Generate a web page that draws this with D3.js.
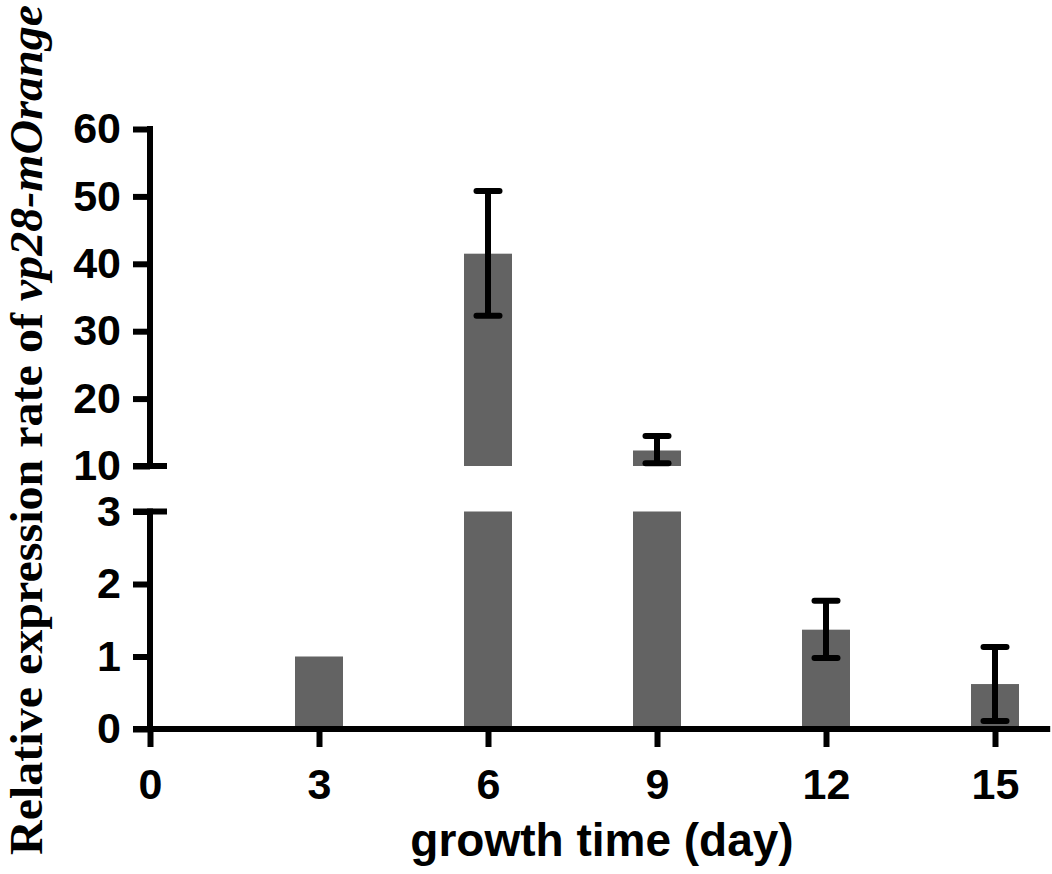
<!DOCTYPE html>
<html>
<head>
<meta charset="utf-8">
<script src="https://cdn.jsdelivr.net/npm/d3@7"></script>
<style>
  body { margin: 0; background: #fff; }
  svg { display: block; }
</style>
</head>
<body>
<div id="chart"></div>
<script>
// Data
const days = [3, 6, 9, 12, 15];
const means = [1.0, 41.5, 12.3, 1.37, 0.62];
const errLow = [null, 32.3, 10.4, 0.98, 0.11];
const errHigh = [null, 50.8, 14.45, 1.77, 1.13];
const xTicks = [0, 3, 6, 9, 12, 15];
const yTicksLow = [0, 1, 2, 3];
const yTicksHigh = [10, 20, 30, 40, 50, 60];

const width = 1052, height = 874;
const barColor = "#636363";
const sw = 6;

const svg = d3.select("#chart").append("svg")
  .attr("width", width)
  .attr("height", height);

// scales: broken y axis with two segments
const x = d3.scaleLinear().domain([0, 15]).range([150, 995]);
const yLow = d3.scaleLinear().domain([0, 3]).range([729, 511.5]);
const yHigh = d3.scaleLinear().domain([10, 60]).range([466, 129]);
const yAny = v => v <= 3 ? yLow(v) : yHigh(v);
const barW = x(0.852) - x(0);

const rows = days.map((d, i) => ({ day: d, mean: means[i], lo: errLow[i], hi: errHigh[i] }));

// bars, lower segment
svg.append("g").selectAll("rect")
  .data(rows)
  .enter().append("rect")
  .attr("x", d => x(d.day) - barW / 2)
  .attr("width", barW)
  .attr("y", d => yLow(Math.min(d.mean, 3)))
  .attr("height", d => yLow(0) - yLow(Math.min(d.mean, 3)))
  .attr("fill", barColor);

// bars, upper segment
svg.append("g").selectAll("rect")
  .data(rows.filter(d => d.mean > 10))
  .enter().append("rect")
  .attr("x", d => x(d.day) - barW / 2)
  .attr("width", barW)
  .attr("y", d => yHigh(d.mean))
  .attr("height", d => yHigh(10) - yHigh(d.mean))
  .attr("fill", barColor);

// error bars
const eb = svg.append("g")
  .attr("stroke", "#000")
  .attr("stroke-width", sw)
  .attr("stroke-linecap", "round");

rows.filter(d => d.lo != null).forEach(d => {
  const cx = x(d.day);
  eb.append("line").attr("x1", cx).attr("x2", cx)
    .attr("y1", yAny(d.lo)).attr("y2", yAny(d.hi))
    .attr("stroke-linecap", "butt");
  [d.lo, d.hi].forEach(v => {
    eb.append("line")
      .attr("x1", cx - 11.5).attr("x2", cx + 11.5)
      .attr("y1", yAny(v)).attr("y2", yAny(v));
  });
});

// axes
const tickFont = "'Liberation Sans', Arial, sans-serif";

function styleAxis(g) {
  g.selectAll(".tick line").attr("stroke", "#000").attr("stroke-width", sw);
  g.selectAll(".tick text")
    .attr("fill", "#000")
    .style("font-family", tickFont)
    .style("font-weight", "bold")
    .style("font-size", "43px");
}

const axLow = svg.append("g")
  .attr("transform", "translate(150,0)")
  .call(d3.axisLeft(yLow).tickValues(yTicksLow).tickSize(17).tickPadding(12).tickFormat(d3.format("d")));
axLow.select(".domain").remove();
styleAxis(axLow);

const axHigh = svg.append("g")
  .attr("transform", "translate(150,0)")
  .call(d3.axisLeft(yHigh).tickValues(yTicksHigh).tickSize(17).tickPadding(12).tickFormat(d3.format("d")));
axHigh.select(".domain").remove();
styleAxis(axHigh);

const axX = svg.append("g")
  .attr("transform", `translate(0,${yLow(0)})`)
  .call(d3.axisBottom(x).tickValues(xTicks).tickSize(18).tickPadding(21).tickFormat(d3.format("d")));
axX.select(".domain").remove();
styleAxis(axX);

// axis lines
const lines = svg.append("g").attr("stroke", "#000").attr("stroke-width", sw);
lines.append("line").attr("x1", 150).attr("x2", 150)
  .attr("y1", yLow(0)).attr("y2", yLow(3) - sw / 2);
lines.append("line").attr("x1", 150).attr("x2", 150)
  .attr("y1", yHigh(10) + sw / 2).attr("y2", yHigh(60) - sw / 2);
// break end caps
lines.append("line").attr("x1", 133).attr("x2", 167)
  .attr("y1", yLow(3)).attr("y2", yLow(3));
lines.append("line").attr("x1", 133).attr("x2", 167)
  .attr("y1", yHigh(10)).attr("y2", yHigh(10));
// x axis line
lines.append("line").attr("x1", 133).attr("x2", x(15.98))
  .attr("y1", yLow(0)).attr("y2", yLow(0));

// axis titles
svg.append("text")
  .attr("x", 602)
  .attr("y", 856)
  .attr("text-anchor", "middle")
  .style("font-family", tickFont)
  .style("font-weight", "bold")
  .style("font-size", "46px")
  .text("growth time (day)");

const yt = svg.append("text")
  .attr("transform", "translate(42,855) rotate(-90)")
  .attr("text-anchor", "start")
  .attr("textLength", 850)
  .attr("lengthAdjust", "spacingAndGlyphs")
  .style("font-family", "'Liberation Serif', 'Times New Roman', serif")
  .style("font-weight", "bold")
  .style("font-size", "47px");
yt.append("tspan").text("Relative expression rate of ");
yt.append("tspan").style("font-style", "italic").text("vp28-mOrange");
</script>
</body>
</html>
